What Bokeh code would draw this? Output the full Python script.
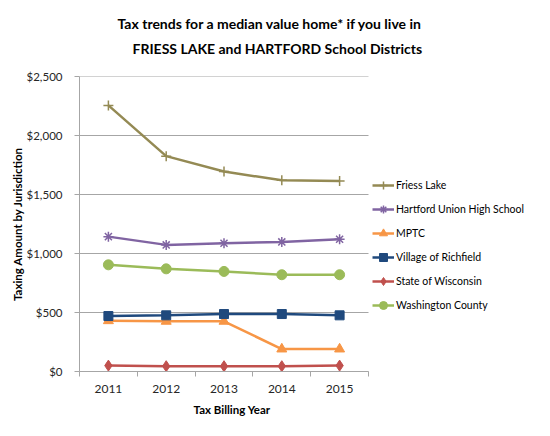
from bokeh.plotting import figure
from bokeh.models import Range1d, FixedTicker, NumeralTickFormatter, Legend, LegendItem, Title
from bokeh.embed import file_html
from bokeh.resources import INLINE

years = [2011, 2012, 2013, 2014, 2015]
series_names = ["Friess Lake", "Hartford Union High School", "MPTC",
                "Village of Richfield", "State of Wisconsin", "Washington County"]
friess_lake = [2255, 1825, 1695, 1620, 1615]
hartford_uhs = [1143, 1073, 1087, 1098, 1121]
mptc = [430, 425, 425, 190, 190]
richfield = [470, 476, 487, 487, 476]
wisconsin = [50, 45, 45, 45, 50]
washington = [904, 870, 848, 820, 820]
y_ticks = [0, 500, 1000, 1500, 2000, 2500]

values = [friess_lake, hartford_uhs, mptc, richfield, wisconsin, washington]
colors = ["#948A54", "#8064A2", "#F79646", "#1F497D", "#C0504D", "#9BBB59"]
markers = ["cross", "asterisk", "triangle", "square", "diamond", "circle"]
sizes = [10, 10, 10, 9, 11, 10]

FONT = "Lato"
GRAY = "#a6a6a6"

# layout: plot area of 289px for the 5 categories, frame extended right to host the legend
W, H = 534, 420
LEFT, TOP, BOTTOM = 79, 76, 48
frame_w = W - LEFT
plot_w = 289
x0 = years[0] - 0.5
x1 = years[-1] + 0.5
x_end = x0 + (x1 - x0) * frame_w / plot_w

p = figure(width=W, height=H, output_backend="svg", toolbar_location=None,
           x_range=Range1d(x0, x_end), y_range=Range1d(0, 2500),
           min_border_left=LEFT, min_border_right=0, min_border_top=TOP, min_border_bottom=BOTTOM,
           title=None)
p.outline_line_color = None
p.background_fill_color = "white"
p.border_fill_color = "white"

# titles
t2 = Title(text="FRIESS LAKE and HARTFORD School Districts", align="left",
           text_font=FONT, text_font_size="14px", text_font_style="bold",
           text_color="#000000", offset=53, standoff=40)
t1 = Title(text="Tax trends for a median value home* if you live in", align="left",
           text_font=FONT, text_font_size="14px", text_font_style="bold",
           text_color="#000000", offset=38, standoff=-28)
p.add_layout(t2, "above")
p.add_layout(t1, "above")

# gridlines limited to the plot area
p.xgrid.grid_line_color = None
p.ygrid.grid_line_color = None
p.segment(x0=[x0] * len(y_ticks), y0=y_ticks, x1=[x1] * len(y_ticks), y1=y_ticks,
          line_color=GRAY, line_width=1)

# axes
xax = p.xaxis[0]
xax.bounds = (x0, x1)
xax.ticker = FixedTicker(ticks=years, minor_ticks=[y - 0.5 for y in years] + [x1])
xax.major_tick_line_color = None
xax.minor_tick_line_color = GRAY
xax.minor_tick_out = 5
xax.minor_tick_in = 0
xax.axis_line_color = GRAY
xax.major_label_text_font = FONT
xax.major_label_text_font_size = "12px"
xax.major_label_text_color = "#262626"
xax.major_label_standoff = 7

xtitle = Title(text="Tax Billing Year", align="left",
               text_font=FONT, text_font_size="11.5px", text_font_style="bold",
               text_color="#000000", offset=114, standoff=10)
p.add_layout(xtitle, "below")

yax = p.yaxis[0]
yax.ticker = FixedTicker(ticks=y_ticks)
yax.formatter = NumeralTickFormatter(format="$0,0")
yax.axis_line_color = GRAY
yax.major_tick_line_color = GRAY
yax.major_tick_out = 5
yax.major_tick_in = 0
yax.minor_tick_line_color = None
yax.major_label_text_font = FONT
yax.major_label_text_font_size = "11.5px"
yax.major_label_text_color = "#262626"
yax.major_label_standoff = 12
yax.axis_label = "Taxing Amount by Jurisdiction"
yax.axis_label_text_font = FONT
yax.axis_label_text_font_size = "11.5px"
yax.axis_label_text_font_style = "bold"
yax.axis_label_text_color = "#000000"
yax.axis_label_standoff = 0

items = []
for name, vals, c, m, s in zip(series_names, values, colors, markers, sizes):
    ln = p.line(years, vals, line_color=c, line_width=2.5)
    sc = p.scatter(years, vals, marker=m, size=s, fill_color=c, line_color=c,
                   line_width=1.5 if m in ("cross", "asterisk") else 1)
    items.append(LegendItem(label=name, renderers=[ln, sc]))

legend = Legend(items=items, location=(293, 56), orientation="vertical",
                glyph_width=22, glyph_height=20, label_height=20, spacing=4,
                label_standoff=2, padding=0, margin=0,
                label_text_font=FONT, label_text_font_size="10.5px",
                label_text_color="#000000",
                border_line_color=None, background_fill_alpha=0)
p.add_layout(legend, "center")

open("out.html", "w").write(file_html(p, INLINE))
